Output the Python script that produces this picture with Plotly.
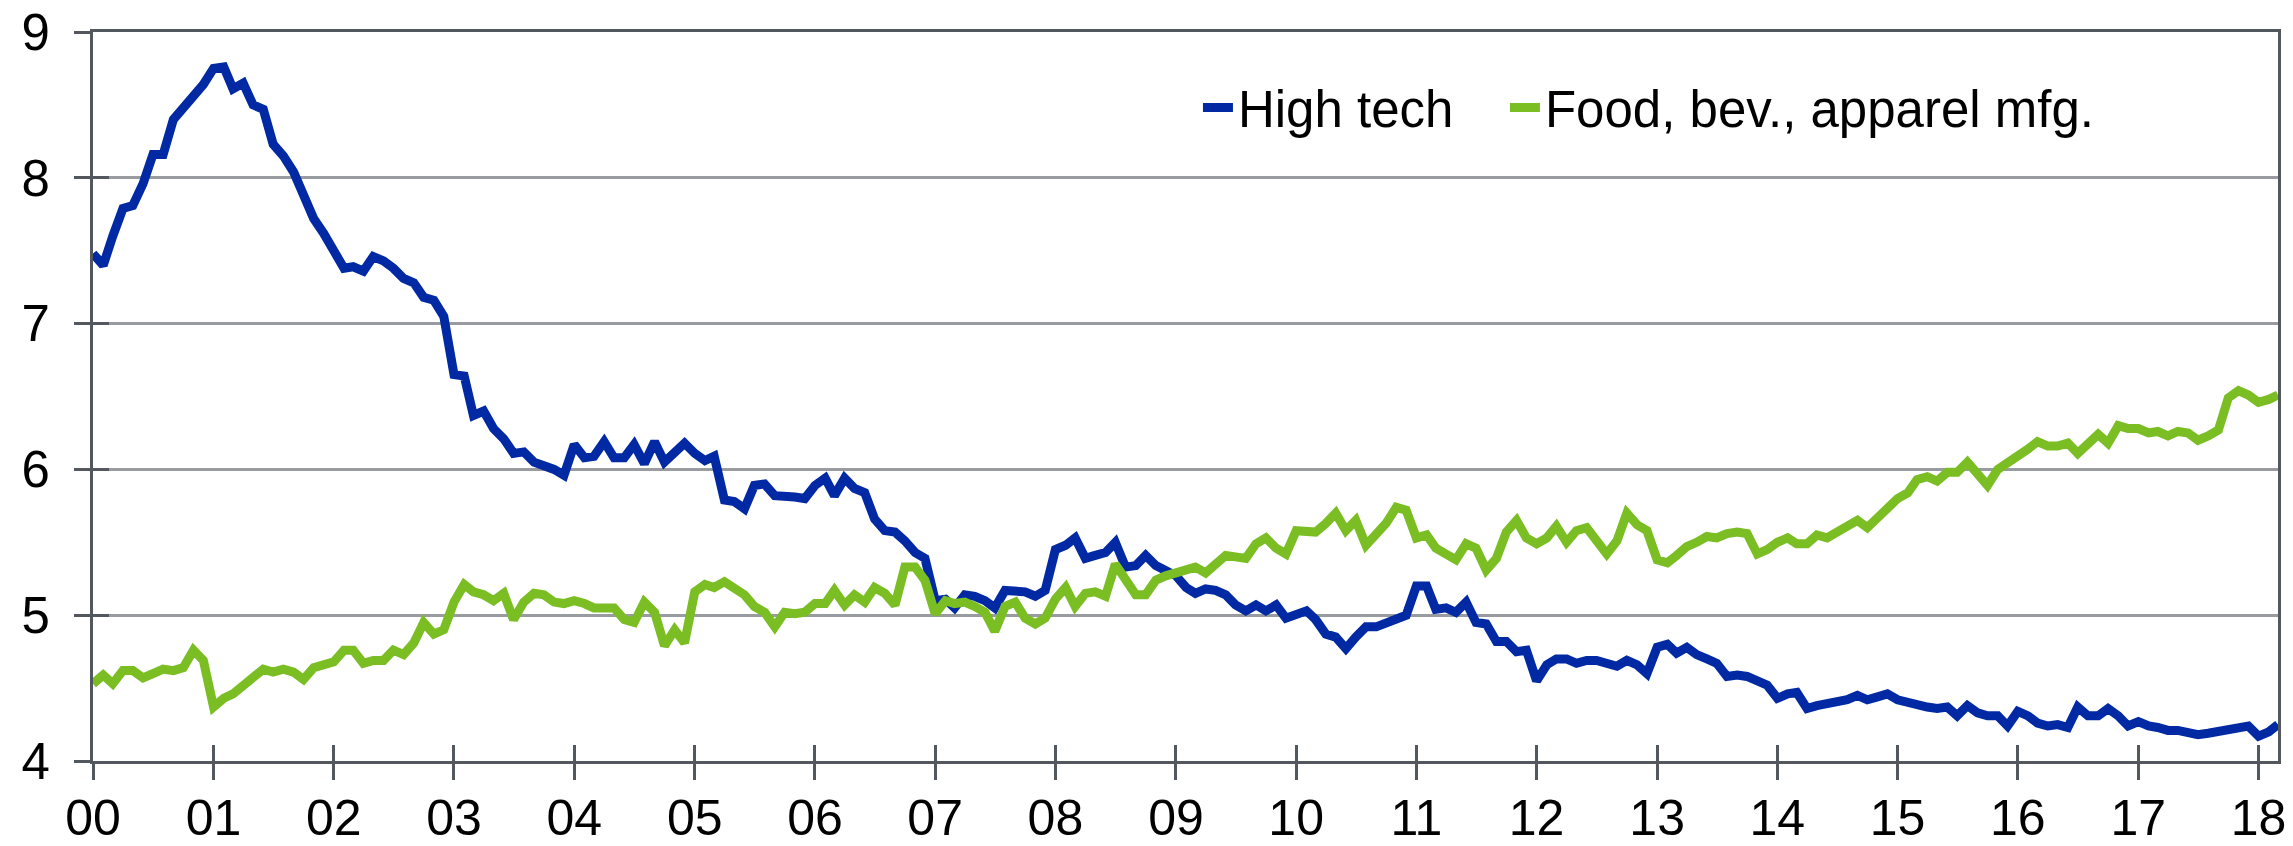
import pandas as pd
import plotly.graph_objects as go

months = pd.date_range("2000-01-01", "2018-03-01", freq="MS")

high_tech = [
    7.48, 7.40, 7.60, 7.79, 7.81, 7.96, 8.16, 8.16, 8.40, 8.48, 8.56, 8.64,
    8.75, 8.76, 8.61, 8.65, 8.50, 8.47, 8.23, 8.15, 8.04, 7.90, 7.72, 7.62,
    7.51, 7.38, 7.39, 7.36, 7.46, 7.43, 7.38, 7.31, 7.28, 7.18, 7.16, 7.05,
    6.65, 6.64, 6.37, 6.40, 6.28, 6.21, 6.11, 6.12, 6.05, 6.03, 6.00, 5.96,
    6.17, 6.08, 6.09, 6.19, 6.08, 6.08, 6.17, 6.04, 6.19, 6.05, 6.11, 6.18,
    6.11, 6.06, 6.09, 5.79, 5.78, 5.73, 5.89, 5.90, 5.82, 5.82, 5.81, 5.80,
    5.89, 5.94, 5.82, 5.94, 5.87, 5.84, 5.66, 5.58, 5.57, 5.51, 5.43, 5.39,
    5.10, 5.11, 5.05, 5.14, 5.13, 5.10, 5.05, 5.17, 5.16, 5.16, 5.13, 5.17,
    5.45, 5.48, 5.53, 5.39, 5.41, 5.43, 5.50, 5.33, 5.34, 5.41, 5.34, 5.31,
    5.27, 5.19, 5.15, 5.18, 5.17, 5.14, 5.07, 5.03, 5.07, 5.03, 5.07, 4.98,
    5.01, 5.03, 4.97, 4.87, 4.85, 4.77, 4.85, 4.92, 4.92, 4.95, 4.97, 5.00,
    5.20, 5.20, 5.04, 5.05, 5.02, 5.09, 4.95, 4.94, 4.82, 4.82, 4.75, 4.76,
    4.55, 4.66, 4.70, 4.70, 4.67, 4.69, 4.69, 4.67, 4.65, 4.69, 4.66, 4.60,
    4.78, 4.80, 4.74, 4.78, 4.73, 4.70, 4.67, 4.58, 4.59, 4.58, 4.55, 4.52,
    4.43, 4.46, 4.47, 4.36, 4.38, 4.39, 4.40, 4.42, 4.45, 4.42, 4.44, 4.46,
    4.42, 4.40, 4.38, 4.37, 4.36, 4.37, 4.31, 4.38, 4.33, 4.31, 4.31, 4.24,
    4.34, 4.31, 4.26, 4.24, 4.25, 4.23, 4.37, 4.31, 4.31, 4.36, 4.31, 4.24,
    4.27, 4.24, 4.23, 4.21, 4.21, 4.20, 4.18, 4.19, 4.20, 4.22, 4.22, 4.24,
    4.17, 4.20, 4.25,
]

food_bev_apparel = [
    4.53, 4.59, 4.53, 4.62, 4.62, 4.57, 4.60, 4.63, 4.62, 4.64, 4.76, 4.69,
    4.37, 4.43, 4.46, 4.52, 4.56, 4.63, 4.61, 4.63, 4.61, 4.56, 4.64, 4.66,
    4.68, 4.76, 4.76, 4.67, 4.69, 4.69, 4.76, 4.73, 4.81, 4.95, 4.87, 4.90,
    5.09, 5.21, 5.16, 5.14, 5.10, 5.15, 4.97, 5.09, 5.15, 5.14, 5.09, 5.08,
    5.10, 5.08, 5.05, 5.05, 5.05, 4.97, 4.95, 5.09, 5.02, 4.79, 4.90, 4.81,
    5.16, 5.21, 5.19, 5.23, 5.18, 5.14, 5.06, 5.02, 4.92, 5.02, 5.01, 5.02,
    5.08, 5.08, 5.17, 5.07, 5.14, 5.09, 5.19, 5.15, 5.07, 5.33, 5.33, 5.24,
    5.01, 5.10, 5.08, 5.09, 5.06, 5.02, 4.89, 5.06, 5.09, 4.98, 4.94, 4.98,
    5.11, 5.19, 5.06, 5.15, 5.16, 5.13, 5.35, 5.24, 5.14, 5.14, 5.24, 5.27,
    5.29, 5.30, 5.33, 5.29, 5.34, 5.41, 5.40, 5.39, 5.49, 5.53, 5.46, 5.42,
    5.58, 5.58, 5.57, 5.63, 5.70, 5.58, 5.65, 5.48, 5.55, 5.63, 5.74, 5.72,
    5.53, 5.55, 5.46, 5.41, 5.38, 5.49, 5.46, 5.31, 5.39, 5.57, 5.65, 5.53,
    5.49, 5.53, 5.61, 5.50, 5.58, 5.60, 5.51, 5.42, 5.51, 5.70, 5.62, 5.58,
    5.38, 5.36, 5.41, 5.47, 5.50, 5.54, 5.53, 5.56, 5.57, 5.56, 5.42, 5.45,
    5.50, 5.53, 5.49, 5.49, 5.55, 5.53, 5.57, 5.61, 5.65, 5.60, 5.67, 5.74,
    5.80, 5.84, 5.93, 5.95, 5.92, 5.98, 5.98, 6.05, 5.96, 5.89, 6.00, 6.04,
    6.09, 6.14, 6.19, 6.16, 6.16, 6.18, 6.11, 6.18, 6.24, 6.18, 6.30, 6.28,
    6.28, 6.25, 6.26, 6.23, 6.26, 6.25, 6.20, 6.23, 6.27, 6.49, 6.54, 6.51,
    6.46, 6.48, 6.51,
]

series_names = ["High tech", "Food, bev., apparel mfg."]
series_colors = ["#0029A3", "#7ABE24"]

FONT = "Liberation Sans, Arial, sans-serif"
AXIS_COLOR = "#53585E"
GRID_COLOR = "#989CA1"
x_range = [months[0], months[-1]]

fig = go.Figure()
fig.add_trace(go.Scatter(x=months, y=high_tech, mode="lines", name=series_names[0],
                         line=dict(color=series_colors[0], width=9), legend="legend"))
fig.add_trace(go.Scatter(x=months, y=food_bev_apparel, mode="lines", name=series_names[1],
                         line=dict(color=series_colors[1], width=9),
                         xaxis="x2", yaxis="y2", legend="legend2"))

legend_common = dict(orientation="h", xanchor="left", yanchor="middle",
                     bgcolor="rgba(0,0,0,0)", font=dict(size=51, family=FONT, color="black"))

fig.update_layout(
    width=2293, height=846,
    margin=dict(l=93, r=15, t=32, b=85, autoexpand=False),
    paper_bgcolor="white", plot_bgcolor="white",
    font=dict(family=FONT, size=51, color="black"),
    showlegend=True,
    legend=dict(x=0.5057, y=0.896, **legend_common),
    legend2=dict(x=0.6462, y=0.896, **legend_common),
    xaxis=dict(type="date", range=x_range, tickformat="%y", dtick="M12",
               tick0="2000-01-01", ticks="outside", ticklen=16, tickwidth=3,
               tickcolor=AXIS_COLOR, showline=True, linecolor=AXIS_COLOR, linewidth=3,
               mirror=True, showgrid=False, zeroline=False, ticklabelstandoff=-5,
               tickfont=dict(size=50), automargin=False),
    yaxis=dict(range=[4, 9], dtick=1, ticks="outside", ticklen=16, tickwidth=3,
               tickcolor=AXIS_COLOR, showline=True, linecolor=AXIS_COLOR, linewidth=3,
               mirror=True, showgrid=True, gridcolor=GRID_COLOR, gridwidth=2.5,
               zeroline=False, ticklabelstandoff=14, automargin=False),
    xaxis2=dict(type="date", range=x_range, overlaying="x", dtick="M12",
                tick0="2000-01-01", ticks="inside", ticklen=16, tickwidth=3,
                tickcolor=AXIS_COLOR, showticklabels=False, showline=False,
                showgrid=False, zeroline=False, automargin=False),
    yaxis2=dict(range=[4, 9], overlaying="y", dtick=1, ticks="inside", ticklen=16,
                tickwidth=3, tickcolor=AXIS_COLOR, showticklabels=False, showline=False,
                showgrid=False, zeroline=False, automargin=False),
)

fig.write_html(
    "out.html",
    config={"displayModeBar": False},
    post_script="document.body.style.margin='0';document.body.style.padding='0';"
                "document.body.style.overflow='hidden';",
)
